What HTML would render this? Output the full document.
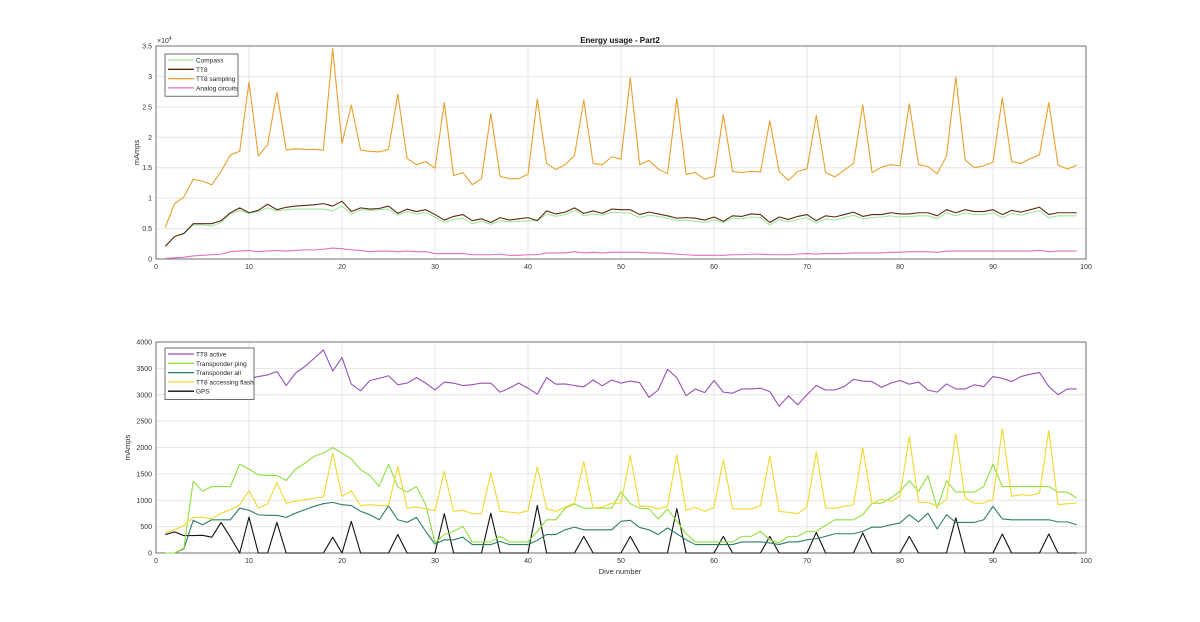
<!DOCTYPE html>
<html><head><meta charset="utf-8"><style>
body{margin:0;background:#fff;}
svg{display:block;font-family:"Liberation Sans",sans-serif;}
</style></head><body>
<svg id="c" width="1200" height="622" xmlns="http://www.w3.org/2000/svg"></svg>
<script>
const dives = Array.from({length:99},(_,i)=>i+1);
const compass=[0.21,0.37,0.42,0.56,0.56,0.54,0.6,0.74,0.8,0.75,0.78,0.84,0.79,0.81,0.82,0.82,0.82,0.82,0.79,0.87,0.74,0.81,0.80,0.81,0.82,0.72,0.78,0.74,0.76,0.69,0.60,0.65,0.67,0.58,0.62,0.57,0.63,0.61,0.62,0.63,0.63,0.74,0.70,0.73,0.80,0.71,0.74,0.72,0.77,0.76,0.75,0.68,0.72,0.70,0.67,0.63,0.64,0.62,0.60,0.64,0.60,0.67,0.66,0.69,0.68,0.56,0.65,0.61,0.65,0.68,0.59,0.66,0.64,0.68,0.72,0.66,0.68,0.69,0.71,0.69,0.70,0.71,0.71,0.66,0.76,0.71,0.76,0.73,0.73,0.76,0.68,0.75,0.72,0.76,0.79,0.68,0.71,0.71,0.71];
const tt8=[0.21,0.37,0.42,0.58,0.58,0.58,0.63,0.76,0.84,0.76,0.80,0.90,0.81,0.85,0.87,0.88,0.89,0.91,0.87,0.95,0.78,0.84,0.82,0.83,0.87,0.75,0.82,0.78,0.81,0.73,0.64,0.70,0.73,0.63,0.66,0.60,0.68,0.64,0.66,0.68,0.63,0.79,0.74,0.77,0.84,0.75,0.79,0.75,0.82,0.81,0.81,0.73,0.77,0.74,0.71,0.67,0.68,0.67,0.64,0.69,0.62,0.71,0.70,0.74,0.73,0.60,0.69,0.65,0.70,0.73,0.63,0.71,0.69,0.73,0.77,0.70,0.73,0.73,0.76,0.74,0.74,0.76,0.76,0.71,0.81,0.76,0.81,0.78,0.78,0.81,0.73,0.80,0.77,0.81,0.85,0.73,0.76,0.76,0.76];
const tt8Sampling=[0.52,0.91,1.02,1.31,1.28,1.22,1.44,1.71,1.77,2.91,1.69,1.88,2.74,1.79,1.81,1.80,1.80,1.79,3.46,1.90,2.53,1.79,1.77,1.76,1.80,2.71,1.65,1.55,1.60,1.49,2.57,1.37,1.42,1.22,1.32,2.39,1.36,1.32,1.32,1.39,2.63,1.57,1.47,1.55,1.70,2.61,1.57,1.55,1.68,1.64,2.98,1.55,1.62,1.48,1.40,2.64,1.39,1.42,1.31,1.36,2.37,1.44,1.42,1.44,1.43,2.27,1.44,1.29,1.44,1.48,2.36,1.42,1.35,1.46,1.57,2.53,1.42,1.51,1.55,1.53,2.55,1.55,1.52,1.40,1.69,2.99,1.63,1.50,1.53,1.59,2.65,1.60,1.57,1.65,1.71,2.57,1.54,1.48,1.54];
const analog=[0.01,0.02,0.03,0.05,0.06,0.07,0.08,0.12,0.13,0.14,0.12,0.13,0.14,0.13,0.14,0.15,0.15,0.16,0.18,0.17,0.15,0.14,0.12,0.13,0.13,0.12,0.13,0.12,0.12,0.09,0.09,0.09,0.09,0.07,0.07,0.07,0.08,0.06,0.06,0.07,0.07,0.10,0.10,0.10,0.12,0.10,0.11,0.10,0.11,0.11,0.11,0.11,0.10,0.10,0.09,0.08,0.07,0.06,0.06,0.06,0.06,0.07,0.07,0.08,0.08,0.07,0.07,0.07,0.08,0.09,0.08,0.09,0.09,0.09,0.10,0.10,0.10,0.10,0.11,0.11,0.12,0.12,0.12,0.11,0.13,0.13,0.13,0.13,0.13,0.13,0.13,0.13,0.13,0.13,0.14,0.12,0.13,0.13,0.13];
const tt8Active=[2940,3000,3100,3200,3250,3300,3300,3350,3300,3310,3345,3375,3440,3175,3410,3535,3690,3850,3450,3705,3200,3075,3270,3310,3360,3190,3220,3325,3220,3090,3240,3220,3175,3190,3220,3220,3050,3125,3220,3125,3010,3325,3200,3205,3175,3150,3280,3170,3280,3220,3260,3230,2950,3090,3480,3325,2980,3110,3040,3270,3050,3030,3110,3110,3125,3060,2780,2980,2810,3000,3175,3090,3090,3155,3290,3260,3250,3140,3220,3270,3200,3240,3090,3050,3205,3110,3110,3190,3155,3345,3310,3250,3345,3390,3420,3155,3000,3110,3110];
const transPing=[0,0,95,1360,1170,1260,1260,1260,1685,1590,1480,1470,1470,1375,1590,1700,1830,1895,2000,1895,1785,1580,1470,1260,1685,1250,1155,1260,915,190,350,410,505,210,210,210,315,210,210,210,410,630,630,850,930,850,850,850,850,1160,935,850,840,645,835,600,365,210,210,210,210,210,315,315,410,250,190,315,315,410,410,525,630,630,630,725,945,945,1040,1170,1370,1170,1465,850,1370,1155,1155,1155,1260,1685,1260,1260,1260,1260,1260,1260,1155,1155,1040];
const transAll=[0,0,80,620,535,630,630,630,850,810,725,715,715,675,755,820,885,935,960,915,900,790,725,630,895,630,580,675,410,170,250,250,300,160,160,160,220,160,160,160,240,350,350,440,490,440,440,440,440,600,620,485,440,350,475,365,250,160,160,160,160,160,210,210,210,190,160,210,210,250,270,315,365,365,365,410,490,490,535,570,725,590,755,455,725,580,580,580,630,885,645,630,630,630,630,630,590,590,535];
const flash=[380,440,520,675,675,650,755,820,915,1185,850,930,1340,945,980,1010,1040,1060,1895,1075,1180,900,915,900,900,1640,850,870,840,800,1545,790,810,745,745,1515,790,775,755,800,1630,840,790,870,945,1735,850,870,945,945,1850,885,885,835,885,1860,810,865,790,865,1765,835,835,835,895,1840,790,770,745,870,1910,850,850,885,915,1990,930,1020,980,1075,2210,960,960,885,1010,2260,1040,945,945,1020,2355,1075,1105,1090,1135,2320,915,935,945];
const gps=[350,400,330,330,335,300,580,300,0,680,0,0,580,0,0,0,0,0,300,0,600,0,0,0,0,350,0,0,0,0,745,0,0,0,0,755,0,0,0,0,900,0,0,0,0,315,0,0,0,0,315,0,0,0,0,840,0,0,0,0,315,0,0,0,0,315,0,0,0,0,390,0,0,0,0,380,0,0,0,0,315,0,0,0,0,665,0,0,0,0,360,0,0,0,0,360,0,0,0];
const xTicks=[0,10,20,30,40,50,60,70,80,90,100];
const topYTicks=[0,0.5,1,1.5,2,2.5,3,3.5];
const botYTicks=[0,500,1000,1500,2000,2500,3000,3500,4000];

const NS="http://www.w3.org/2000/svg";
const svg=document.getElementById('c');
function mk(tag,attrs,parent){const e=document.createElementNS(NS,tag);for(const k in attrs)e.setAttribute(k,attrs[k]);(parent||svg).appendChild(e);return e;}
const L=156,R=1086;
const xs=v=>L+(v/100)*(R-L);
function drawAxes(top,bot,ymax,yTicks,name,titleX){
  const ys=v=>bot-(v/ymax)*(bot-top);
  const g=mk('g',{});
  
  
  xTicks.forEach(t=>{
    const ln=mk('line',{x1:xs(t),x2:xs(t),y1:top,y2:bot,stroke:'#e4e4e4','stroke-width':1},g);
    
    
    const tx=mk('text',{x:xs(t),y:bot+10,'font-size':7,'text-anchor':'middle',fill:'#333'},g);
    
    
    tx.textContent=t;
  });
  yTicks.forEach(t=>{
    const ln=mk('line',{x1:L,x2:R,y1:ys(t),y2:ys(t),stroke:'#e4e4e4','stroke-width':1},g);
    
    
    const tx=mk('text',{x:L-4,y:ys(t)+2.5,'font-size':7,'text-anchor':'end',fill:'#333'},g);
    
    
    tx.textContent=t;
  });
  const box=mk('rect',{x:L,y:top,width:R-L,height:bot-top,fill:'none',stroke:'#555','stroke-width':0.8},g);
  
  
  const yl=mk('text',{x:0,y:0,'font-size':7.5,'text-anchor':'middle',fill:'#333',transform:`translate(${titleX},${(top+bot)/2}) rotate(-90)`},g);
  
  
  yl.textContent='mAmps';
  return ys;
}
function series(vals,ys,color,name,w){
  const p=mk('polyline',{points:vals.map((v,i)=>xs(dives[i])+','+ys(v)).join(' '),fill:'none',stroke:color,'stroke-width':w||1.1,'stroke-linejoin':'round'});
  
  
}
function legend(x,y,w,items,name){
  const g=mk('g',{});
  
  
  const h=items.length*9.3+5;
  const r=mk('rect',{x:x,y:y,width:w,height:h,fill:'#fff',stroke:'#333','stroke-width':0.7},g);
  
  
  items.forEach((it,i)=>{
    const cy=y+6+i*9.3;
    const ln=mk('line',{x1:x+3,x2:x+29,y1:cy,y2:cy,stroke:it[1],'stroke-width':1.3},g);
    
    
    const t=mk('text',{x:x+31,y:cy+2.5,'font-size':6.5,fill:'#222'},g);
    
    
    t.textContent=it[0];
  });
}
// top
const ysT=drawAxes(46,259,3.5,topYTicks,'top-axes',139);
series(analog,ysT,'#e070b8','analog-line');
series(compass,ysT,'#a0e6a0','compass-line');
series(tt8,ysT,'#5a2a12','tt8-line');
series(tt8Sampling,ysT,'#e8a02c','tt8-sampling-line');
const ttl=mk('text',{x:620,y:43,'font-size':8,'font-weight':'bold','text-anchor':'middle',fill:'#111'});


ttl.textContent='Energy usage - Part2';
const ex=mk('text',{x:157,y:43,'font-size':7,fill:'#333'});


ex.innerHTML='×10<tspan dy="-3" font-size="5">4</tspan>';
legend(165,54,73,[['Compass','#a0e6a0'],['TT8','#5a2a12'],['TT8 sampling','#e8a02c'],['Analog circuits','#e070b8']],'top-legend');
// bottom
const ysB=drawAxes(342,553,4000,botYTicks,'bottom-axes',130);
series(gps,ysB,'#111','gps-line');
series(transAll,ysB,'#2e7d6a','transponder-all-line');
series(transPing,ysB,'#8ee040','transponder-ping-line');
series(flash,ysB,'#f0d830','tt8-flash-line');
series(tt8Active,ysB,'#9650b4','tt8-active-line');
legend(165,348,89,[['TT8 active','#9650b4'],['Transponder ping','#8ee040'],['Transponder all','#2e7d6a'],['TT8 accessing flash','#f0d830'],['GPS','#111']],'bottom-legend');
const xl=mk('text',{x:620,y:574,'font-size':7.5,'text-anchor':'middle',fill:'#333'});


xl.textContent='Dive number';
</script>
</body></html>
